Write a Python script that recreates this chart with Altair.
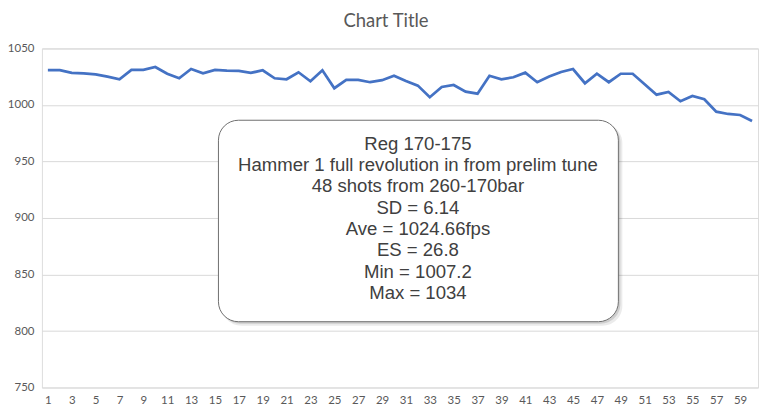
import altair as alt
import pandas as pd

shots = list(range(1, 61))
velocity = [1030.7, 1030.7, 1028.3, 1028.0, 1027.1, 1025.0, 1022.7, 1031.0, 1031.0, 1033.6,
            1027.6, 1023.6, 1031.8, 1028.0, 1031.0, 1030.4, 1030.1, 1028.3, 1030.7, 1023.6,
            1022.7, 1028.9, 1020.9, 1030.7, 1014.8, 1022.2, 1022.2, 1020.1, 1021.9, 1025.8,
            1021.2, 1017.1, 1006.8, 1015.9, 1017.7, 1011.8, 1010.0, 1025.8, 1022.7, 1024.5,
            1028.6, 1020.1, 1025.1, 1029.2, 1031.8, 1019.2, 1027.6, 1020.1, 1027.6, 1027.6,
            1018.3, 1009.1, 1011.5, 1003.3, 1008.0, 1005.0, 994.1, 992.0, 991.1, 985.8]
x_ticks = list(range(1, 60, 2))
y_ticks = [750, 800, 850, 900, 950, 1000, 1050]
title_text = "Chart Title"
box_lines = ["Reg 170-175",
             "Hammer 1 full revolution in from prelim tune",
             "48 shots from 260-170bar",
             "SD = 6.14",
             "Ave = 1024.66fps",
             "ES = 26.8",
             "Min = 1007.2",
             "Max = 1034"]

df = pd.DataFrame({"shot": shots, "v": velocity})

W, H = 718, 340
grey = "#595959"

base = alt.Chart(df)

line = base.mark_line(color="#4472C4", strokeWidth=2.75).encode(
    x=alt.X("shot:Q", scale=alt.Scale(domain=[0.5, 60.5], nice=False, zero=False),
            axis=alt.Axis(values=x_ticks, grid=False, ticks=False, domain=False, format="d",
                          labelFont="Lato", labelFontSize=11.5, labelColor=grey,
                          labelPadding=7, title=None, labelFlush=False, labelOverlap=False)),
    y=alt.Y("v:Q", scale=alt.Scale(domain=[750, 1050], nice=False, zero=False),
            axis=alt.Axis(values=y_ticks, grid=True, gridColor="#D9D9D9", gridWidth=1,
                          format="d", ticks=False, domain=False, labelFont="Lato",
                          labelFontSize=11.5, labelColor=grey, labelPadding=8, title=None)),
)

one = pd.DataFrame({"a": [0]})
ann = alt.Chart(one)

shadow2 = ann.mark_rect(cornerRadius=20, fill="#000000", opacity=0.08).encode(
    x=alt.value(180), x2=alt.value(582), y=alt.value(75), y2=alt.value(278))
shadow1 = ann.mark_rect(cornerRadius=20, fill="#000000", opacity=0.12).encode(
    x=alt.value(179), x2=alt.value(580), y=alt.value(74), y2=alt.value(276))
box = ann.mark_rect(cornerRadius=20, fill="white", stroke="#6F6F6F", strokeWidth=1).encode(
    x=alt.value(177), x2=alt.value(578), y=alt.value(72), y2=alt.value(274))
box_text = ann.mark_text(text=box_lines, font="Liberation Sans", fontSize=18.6,
                         lineHeight=21.4, color="#404040", align="center",
                         baseline="top").encode(
    x=alt.value(377), y=alt.value(86.5))
title = ann.mark_text(text=title_text, font="Lato", fontSize=18.5, color=grey,
                      align="center", baseline="middle").encode(
    x=alt.value(345), y=alt.value(-27))

chart = alt.layer(line, shadow2, shadow1, box, box_text, title).properties(
    width=W, height=H,
    autosize=alt.AutoSizeParams(type="none"),
    padding={"left": 34, "top": 40, "right": 5, "bottom": 25},
).configure_view(stroke=None).configure(background="white")

chart.save("out.html", embed_options={"renderer": "svg", "actions": False})
